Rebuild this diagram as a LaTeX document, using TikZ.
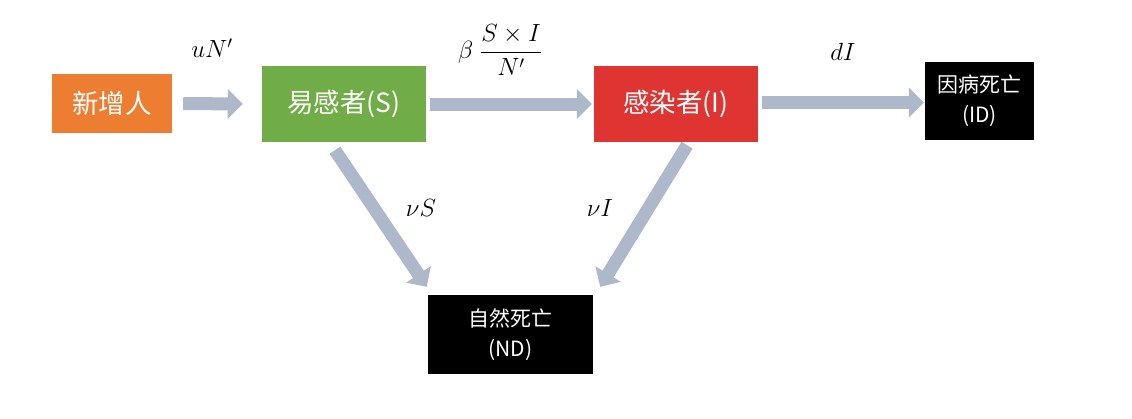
\documentclass[tikz,border=0pt]{standalone}
\usepackage{fontspec}
\newfontfamily\cjk{Noto Sans CJK SC}
\usetikzlibrary{arrows.meta}
\definecolor{neworange}{HTML}{ED7D31}
\definecolor{susgreen}{HTML}{70AD47}
\definecolor{infred}{HTML}{DE3533}
\definecolor{flowgray}{HTML}{ADB9CA}

\begin{document}
\begin{tikzpicture}[x=1pt,y=-1pt,
  box/.style={inner sep=0pt, text=white, align=center, font=\cjk\fontsize{26.5}{30}\selectfont},
  deadbox/.style={box, fill=black, font=\cjk\fontsize{21}{30}\selectfont},
  flow/.style={draw=flowgray, line width=13pt, -{Triangle[length=15pt,width=29pt]}},
  rate/.style={font=\fontsize{24}{28}\selectfont}]
\useasboundingbox (0,0) rectangle (1132,418);
% compartments
\node[box, fill=neworange, minimum width=120pt, minimum height=59pt] (new) at (112,103.5) {新增人};
\node[box, fill=susgreen, minimum width=164pt, minimum height=76pt] (S) at (344,104) {易感者(S)};
\node[box, fill=infred, minimum width=164pt, minimum height=76pt] (I) at (676,104) {感染者(I)};
\node[deadbox, minimum width=109pt, minimum height=78pt] (ID) at (979.5,101) {因病死亡\\(ID)};
\node[deadbox, minimum width=165pt, minimum height=79pt] (ND) at (510.5,334.5) {自然死亡\\(ND)};
% flows
\draw[flow] ([xshift=11pt]new.east) -- ([xshift=-19pt]S.west);
\draw[flow] ([xshift=4pt]S.east) -- ([xshift=-2pt]I.west);
\draw[flow] ([xshift=4pt,yshift=1.5pt]I.east) -- ([xshift=-1pt,yshift=1.5pt]I.east -| ID.west);
\draw[flow] ([xshift=-9pt,yshift=-8pt]S.south) -- ([xshift=-1pt,yshift=8pt]ND.north west);
\draw[flow] ([xshift=11pt,yshift=-3pt]I.south) -- ([xshift=7pt,yshift=8pt]ND.north east);
% rates
\node[rate] (birth) at (212,48) {$uN'$};
\node[rate] (contact) at (500,50) {$\beta\;\displaystyle\frac{S\times I}{N'}$};
\node[rate] (death) at (843,52) {$dI$};
\node[rate] (natS) at (421,208) {$\nu S$};
\node[rate] (natI) at (600,208) {$\nu I$};
\end{tikzpicture}
\end{document}
